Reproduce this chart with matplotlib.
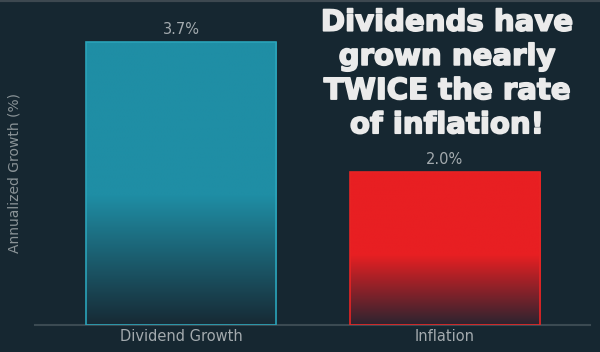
import matplotlib
matplotlib.use('Agg')
import matplotlib.pyplot as plt
import matplotlib.patheffects as pe
import numpy as np
from matplotlib.colors import LinearSegmentedColormap

categories = ['Dividend Growth', 'Inflation']
values = [3.7, 2.0]
labels = ['3.7%', '2.0%']
bar_colors = ['#1f8ea5', '#e81f22']
bar_edges = ['#2aa3b9', '#e82424']
bar_bottoms = ['#172a35', '#2c2430']

bg = '#162731'
grey = '#a3aaae'

fig = plt.figure(figsize=(6, 3.52), dpi=100, facecolor=bg)
ax = fig.add_axes([35 / 600, 27 / 352, 555 / 600, 325 / 352])
ax.set_facecolor(bg)

width = 0.72
x = np.arange(len(categories))
bars = ax.bar(x, values, width=width, color='none', edgecolor=bar_edges, linewidth=1.2, zorder=3)

# vertical fade: solid in the upper part, darkening toward the base
t = np.linspace(0, 1, 256)
fade = np.clip(t / 0.46, 0, 1)
for b, c_top, c_bot in zip(bars, bar_colors, bar_bottoms):
    cmap = LinearSegmentedColormap.from_list('g', [c_bot, c_top])
    x0 = b.get_x()
    h = b.get_height()
    im = ax.imshow(fade[:, None], cmap=cmap, vmin=0, vmax=1, origin='lower', aspect='auto',
                   extent=[x0, x0 + b.get_width(), 0, h], zorder=2, interpolation='bilinear')
    im.set_clip_path(b)

for xi, v, lab in zip(x, values, labels):
    ax.text(xi, v + 0.06, lab, ha='center', va='bottom', color=grey, fontsize=10.5)

ax.set_xlim(-0.553, 1.55)
ax.set_ylim(0, 3.7 * 325 / 283)

for s in ['top', 'right', 'left']:
    ax.spines[s].set_visible(False)
ax.spines['bottom'].set_color('#3b4a52')
ax.spines['bottom'].set_linewidth(1.5)
ax.set_yticks([])
ax.set_xticks(x)
ax.set_xticklabels(categories, color=grey, fontsize=10.5)
ax.tick_params(axis='x', length=0, pad=3)

fig.text(15 / 600, 1 - 173 / 352, 'Annualized Growth (%)', rotation=90, ha='center', va='center',
         color='#8a9397', fontsize=10)

fig.text(447 / 600, 1 - 74 / 352, 'Dividends have\ngrown nearly\nTWICE the rate\nof inflation!',
         ha='center', va='center', color='#ebebeb', fontsize=21, fontweight='bold', linespacing=1.28,
         path_effects=[pe.withStroke(linewidth=1.2, foreground='#ebebeb')])

# thin strip at the top edge
fig.add_artist(plt.Line2D([0, 1], [1, 1], transform=fig.transFigure, color='#3d4850', linewidth=3))

fig.savefig('out.png', dpi=100, facecolor=bg)
